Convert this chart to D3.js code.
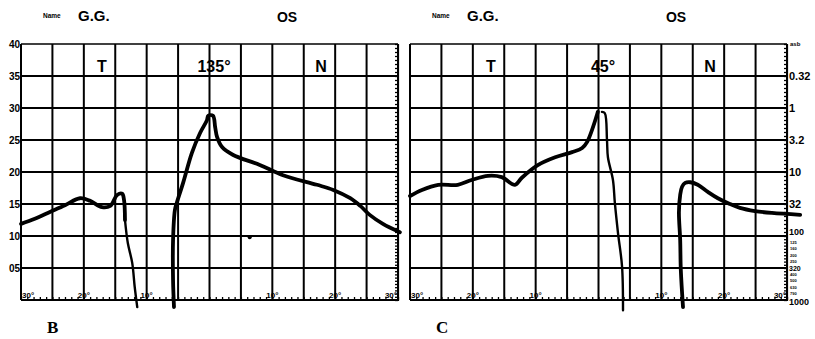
<!DOCTYPE html>
<html>
<head>
<meta charset="utf-8">
<script src="https://cdn.jsdelivr.net/npm/d3@7"></script>
<style>
  body { margin: 0; background: #fff; }
  svg { display: block; font-family: "Liberation Sans", Arial, sans-serif; font-weight: bold; }
</style>
</head>
<body>
<svg id="chart" width="815" height="339"></svg>
<script>
// Isopter charts B and C: [eccentricity in degrees (T negative), sensitivity in dB]
const dbTicks = [40, 35, 30, 25, 20, 15, 10, 5];
const dbLabels = ["40", "35", "30", "25", "20", "15", "10", "05"];
const degLabels = [-30, -20, -10, 10, 20, 30];

const asbMajorDb = [35, 30, 25, 20, 15, 10, 5, 0];
const asbMajorText = ["0.32", "1", "3.2", "10", "32", "100", "320", "1000"];
const asbMinorDb = [9, 8, 7, 6, 4, 3, 2, 1];
const asbMinorText = ["125", "160", "200", "250", "400", "500", "630", "790"];

// chart B (135 deg meridian)
const bTemporal = [[-30.0, 11.9], [-27.8, 12.7], [-25.4, 13.75], [-23.0, 14.8], [-20.6, 15.9], [-19.0, 15.5],
  [-17.1, 14.5], [-15.8, 14.7], [-14.7, 16.4], [-13.9, 16.6], [-13.6, 15.6], [-13.45, 12.5]];
const bTemporalDrop = [[-13.45, 12.5], [-13.0, 8.9], [-12.3, 5.8], [-11.9, 2.0], [-11.5, -1.1]];
const bNasal = [[-5.65, -1.1], [-5.8, 3.1], [-5.8, 9.4], [-5.5, 14.1], [-5.2, 15.2], [-4.2, 18.3], [-2.8, 23.0],
  [-1.5, 26.1], [-0.4, 28.1], [-0.2, 28.8], [0.55, 28.8], [0.9, 27.0], [1.2, 25.5], [2.0, 23.9], [3.7, 22.7],
  [8.0, 21.1], [11.7, 19.5], [17.1, 18.0], [19.7, 17.2], [22.4, 15.9], [24.0, 14.7], [25.5, 13.3],
  [27.6, 11.9], [30.3, 10.6]];
const bDots = [[6.4, 9.8]];

// chart C (45 deg meridian)
const cTemporal = [[-30.0, 16.25], [-28.1, 17.2], [-25.5, 18.0], [-22.4, 18.0], [-20.2, 18.75], [-17.6, 19.4],
  [-15.4, 19.2], [-13.3, 18.0], [-12.2, 19.1], [-9.6, 21.1], [-6.9, 22.3], [-4.2, 23.1], [-2.6, 23.75],
  [-1.8, 24.7], [-0.25, 28.9], [-0.1, 29.4]];
const cTemporalDrop = [[0.55, 29.4], [1.0, 29.2], [1.35, 25.0], [1.5, 22.3], [2.3, 18.75], [2.6, 15.2],
  [3.1, 10.5], [3.75, 5.2], [3.9, -1.6]];
const cNasal = [[13.45, -1.1], [13.1, 4.7], [13.0, 9.4], [12.8, 13.75], [13.0, 16.4], [13.3, 17.7], [13.8, 18.3],
  [14.6, 18.4], [15.8, 18.0], [17.4, 16.9], [19.0, 15.9], [20.9, 15.0], [22.5, 14.4], [24.9, 13.9],
  [27.6, 13.6], [32.1, 13.3]];

const panels = [
  { left: 21, letter: "B", meridian: "135°", dbAxis: true, asbAxis: false,
    thick: [bTemporal, bNasal], thin: [bTemporalDrop], dots: bDots },
  { left: 410, letter: "C", meridian: "45°", dbAxis: false, asbAxis: true,
    thick: [cTemporal, cNasal], thin: [cTemporalDrop], dots: [] }
];

const svg = d3.select("#chart");
const W = 377, H = 256, TOP = 44;

const x = d3.scaleLinear().domain([-30, 30]).range([0, W]);
const y = d3.scaleLinear().domain([0, 40]).range([H, 0]);

const line = d3.line()
  .x(d => x(d[0]))
  .y(d => y(d[1]))
  .curve(d3.curveCatmullRom.alpha(0.5));

// the log scale gets cramped under 10 dB, so those labels are smaller
function asbSize(d) {
  if (d === 5) return 7;
  if (d === 10 || d === 0) return 9;
  return 11;
}
function asbShift(d) {
  if (d === 10) return -1;
  if (d === 0) return 5;
  return d === 5 ? 2.5 : 4;
}

function drawPanel(p) {
  const g = svg.append("g").attr("transform", `translate(${p.left},${TOP})`);

  // header
  g.append("text").attr("x", 22).attr("y", -26).attr("font-size", 6.5).text("Name");
  g.append("text").attr("x", 57).attr("y", -23).attr("font-size", 15).text("G.G.");
  g.append("text").attr("x", 266).attr("y", -22).attr("font-size", 14)
    .attr("text-anchor", "middle").text("OS");

  // grid
  g.selectAll(".vgrid").data(x.ticks(12)).enter().append("line")
    .attr("x1", d => x(d)).attr("x2", d => x(d))
    .attr("y1", 0).attr("y2", H)
    .attr("stroke", "#000").attr("stroke-width", 2);
  g.selectAll(".hgrid").data(y.ticks(8)).enter().append("line")
    .attr("x1", 0).attr("x2", W)
    .attr("y1", d => y(d)).attr("y2", d => y(d))
    .attr("stroke", "#000").attr("stroke-width", d => d === 40 ? 1.5 : 2);

  // bottom degree ticks, 1 deg apart
  g.append("g").attr("transform", `translate(0,${H})`)
    .call(d3.axisTop(x).tickValues(d3.range(-30, 31, 1)).tickSize(3).tickFormat(""))
    .call(a => a.select(".domain").remove())
    .selectAll("line").attr("stroke-width", 1.3);

  g.selectAll(".deg").data(degLabels).enter().append("text")
    .attr("x", d => d === -30 ? x(d) + 1 : d === 30 ? x(d) - 1 : x(d))
    .attr("y", H - 2)
    .attr("font-size", 8)
    .attr("fill", "#000")
    .attr("text-anchor", d => d === -30 ? "start" : d === 30 ? "end" : "middle")
    .text(d => Math.abs(d) + "°");

  // right hand apostilb scale ticks
  const scaleTicks = d3.range(0, 10, 0.5).concat(d3.range(10, 40.01, 0.625));
  g.append("g").attr("transform", `translate(${W},0)`)
    .call(d3.axisLeft(y).tickValues(scaleTicks).tickSize(3).tickFormat(""))
    .call(a => a.select(".domain").attr("stroke-width", 1.2))
    .selectAll("line").attr("stroke-width", 1.3);

  if (p.dbAxis) {
    g.append("g")
      .call(d3.axisLeft(y).tickValues(dbTicks).tickSize(0).tickPadding(1)
        .tickFormat((d, i) => dbLabels[i]))
      .call(a => a.select(".domain").remove())
      .selectAll("text")
      .attr("font-size", 10).attr("font-weight", "bold")
      .attr("font-family", "Liberation Sans, Arial, sans-serif").attr("fill", "#000");
  }

  if (p.asbAxis) {
    g.append("text").attr("x", W + 3).attr("y", y(40) + 2).attr("font-size", 6).text("asb");
    g.selectAll(".asbMajor").data(asbMajorDb).enter().append("text")
      .attr("x", W + 2)
      .attr("y", d => y(d) + asbShift(d))
      .attr("font-size", asbSize)
      .text((d, i) => asbMajorText[i]);
    g.selectAll(".asbMinor").data(asbMinorDb).enter().append("text")
      .attr("x", W + 3)
      .attr("y", d => y(d) + 1.5)
      .attr("font-size", 4)
      .text((d, i) => asbMinorText[i]);
  }

  // grid labels
  g.append("text").attr("x", 81).attr("y", 28).attr("font-size", 16)
    .attr("text-anchor", "middle").text("T");
  g.append("text").attr("x", 193).attr("y", 28).attr("font-size", 16)
    .attr("text-anchor", "middle").text(p.meridian);
  g.append("text").attr("x", 300).attr("y", 28).attr("font-size", 16)
    .attr("text-anchor", "middle").text("N");

  // isopters
  g.selectAll(".thick").data(p.thick).enter().append("path")
    .attr("d", line)
    .attr("fill", "none").attr("stroke", "#000")
    .attr("stroke-width", 3.8).attr("stroke-linejoin", "round").attr("stroke-linecap", "round");
  g.selectAll(".thin").data(p.thin).enter().append("path")
    .attr("d", line)
    .attr("fill", "none").attr("stroke", "#000")
    .attr("stroke-width", 2.4).attr("stroke-linejoin", "round").attr("stroke-linecap", "round");
  g.selectAll(".dot").data(p.dots).enter().append("circle")
    .attr("cx", d => x(d[0])).attr("cy", d => y(d[1])).attr("r", 2).attr("fill", "#000");

  // panel letter
  g.append("text").attr("x", 26).attr("y", 289)
    .attr("font-family", "Liberation Serif, DejaVu Serif, serif")
    .attr("font-size", 17).attr("font-weight", "bold").text(p.letter);
}

panels.forEach(drawPanel);
</script>
</body>
</html>
